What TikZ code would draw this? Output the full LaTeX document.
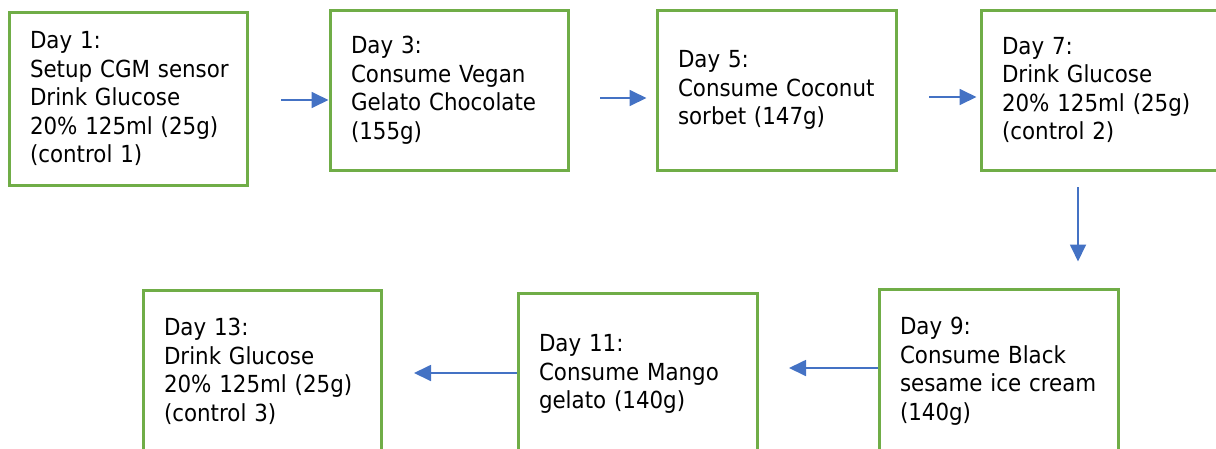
\documentclass[tikz,border=0pt]{standalone}
\usepackage{fontspec}
\setmainfont{DejaVu Sans}[FakeStretch=0.91]
\usetikzlibrary{arrows.meta}
\hyphenpenalty=10000
\definecolor{boxgreen}{HTML}{70AD47}
\definecolor{flowblue}{HTML}{4472C4}
\tikzset{
  box/.style={draw=boxgreen, line width=3pt, rectangle, inner xsep=21pt,
    inner ysep=0pt, align=left, font=\fontsize{23.5}{28.5}\selectfont},
  flow/.style={draw=flowblue, line width=1.8pt,
    -{Triangle[length=17pt,width=16pt]}},
}
\begin{document}
\begin{tikzpicture}[x=1pt,y=-1pt]
\useasboundingbox (0,0) rectangle (1216,448);

% top row
\node[box, text width=196pt, minimum height=173pt] (b1) at (128,98.5)
  {Day 1:\\\mbox{Setup CGM sensor}\\Drink~Glucose\\20\%~125ml~(25g)\\(control~1)};
\node[box, text width=196pt, minimum height=160pt] (b3) at (449,90)
  {Day 3:\\Consume~Vegan\\\mbox{Gelato Chocolate}\\(155g)};
\node[box, text width=197pt, minimum height=160pt] (b5) at (776.5,90)
  {Day 5:\\\mbox{Consume Coconut}\\sorbet~(147g)};
\node[box, text width=196pt, minimum height=160pt] (b7) at (1100,90)
  {Day 7:\\Drink~Glucose\\\mbox{20\% 125ml (25g)}\\(control~2)};

% bottom row
\node[box, text width=197pt, minimum height=164pt] (b9) at (998.5,371)
  {Day 9:\\Consume~Black\\\mbox{sesame ice cream}\\(140g)};
\node[box, text width=197pt, minimum height=162pt] (b11) at (637.5,374)
  {Day 11:\\Consume~Mango\\gelato~(140g)};
\node[box, text width=196pt, minimum height=163pt] (b13) at (262,371.5)
  {Day 13:\\Drink~Glucose\\\mbox{20\% 125ml (25g)}\\(control~3)};

% arrow ends
\coordinate (s1) at (281,100);
\coordinate (s2) at (600,98);
\coordinate (s3) at (929,97);
\coordinate (s4) at (1078,187);
\coordinate (e9) at (789,368);
\coordinate (e11) at (414,373);

% \draw arrows
\draw[flow] (s1) -- (s1 -| b3.west);
\draw[flow, shorten >=9pt] (s2) -- (s2 -| b5.west);
\draw[flow, shorten >=3pt] (s3) -- (s3 -| b7.west);
\draw[flow, shorten >=26pt] (s4) -- (s4 |- b9.north);
\draw[flow] (e9 -| b9.west) -- (e9);
\draw[flow] (e11 -| b11.west) -- (e11);

\end{tikzpicture}
\end{document}
